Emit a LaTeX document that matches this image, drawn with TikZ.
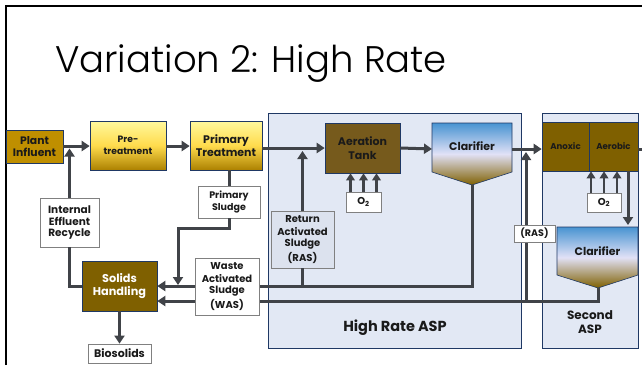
\documentclass[tikz,border=0pt]{standalone}
\usepackage{fontspec}
\usetikzlibrary{arrows.meta}
\setmainfont{Poppins}
\IfFontExistsTF{Poppins Light}
  {\newfontfamily\titlefont{Poppins Light}}
  {\newfontfamily\titlefont{Poppins}}
\definecolor{flowgray}{HTML}{404348}
\definecolor{navy}{HTML}{1F3864}
\definecolor{panelblue}{HTML}{E2E8F4}
\definecolor{rasfill}{HTML}{DCE2EE}
\definecolor{sludge}{HTML}{7F6000}
\definecolor{tankbrown}{HTML}{765A1C}
\definecolor{gold}{HTML}{BF8F00}
\definecolor{labelgray}{HTML}{808080}
\definecolor{inktext}{HTML}{1A1A1A}
\newcommand{\fsz}[1]{\fontsize{#1}{1.12\dimexpr#1pt\relax}\selectfont}
\tikzset{
  flow/.style={draw=flowgray, line width=3pt},
  flowarrow/.style={flow, -{Triangle[length=8pt,width=10pt]}},
  panel/.style={draw=navy, line width=0.7pt, fill=panelblue},
  goldbox/.style={draw=navy, line width=0.6pt, top color=yellow!35!white!95!orange, bottom color=gold!90!black,
    middle color=yellow!60!orange!70!white, align=center, text=inktext, font=\bfseries},
  tank/.style={draw=navy, line width=0.6pt, fill=tankbrown, align=center, text=inktext, font=\bfseries},
  tag/.style={draw=labelgray, line width=0.8pt, fill=white, align=center, text=inktext, font=\bfseries, inner sep=0pt},
  clarshade/.style={draw=navy, line width=0.6pt, top color=blue!45!cyan!60!gray!90!white, bottom color=sludge, middle color=gray!45!blue!15!white},
  captext/.style={font=\bfseries, text=inktext, align=center}
}
\begin{document}
\begin{tikzpicture}[x=1pt,y=-1pt]
\useasboundingbox (0,0) rectangle (642,365);
% frame lines
\draw[line width=2pt, black] (6,365) -- (6,6) -- (642,6);
% title
\node[anchor=base west, inner sep=0pt, font=\titlefont\fsz{37}, text=black] (title) at (55,72) {Variation 2: High Rate};

% process panels
\path[panel] (268,113) rectangle (521,348);
\path[panel] (542,113) rectangle (638,348);
\node[captext, font=\bfseries\fsz{14.5}] (hrasp) at (395,328) {High Rate ASP};
\node[captext, font=\bfseries\fsz{12}, inner sep=0pt] (sasp) at (590,322) {Second\\[1pt]ASP};

% front end boxes
\node[draw=navy, line width=0.6pt, fill=gold, minimum width=57pt, minimum height=33pt, inner sep=0pt,
  align=center, font=\bfseries\fsz{10.8}, text=inktext] (pi) at (34.5,146.5) {Plant\\Influent};
\node[goldbox, minimum width=76pt, minimum height=49pt, inner sep=0pt, font=\bfseries\fsz{9.2}] (pre) at (128,145.5) {Pre-\\[2pt]treatment};
\node[goldbox, minimum width=72pt, minimum height=49pt, inner sep=0pt, font=\bfseries\fsz{11}] (prim) at (226,145.5) {Primary\\Treatment};

% high rate stage
\node[tank, minimum width=75pt, minimum height=50pt, inner sep=0pt, font=\bfseries\fsz{11}] (at) at (362.5,148) {Aeration\\[1pt]Tank};
\path[clarshade] (432,123) -- (512,123) -- (512,172) -- (472,185) -- (432,172) -- cycle;
\node[captext, font=\bfseries\fsz{11}] (cl1) at (472,146) {Clarifier};
\coordinate (cl1tip) at (472,185);
\coordinate (cl1in) at (432,149);
\coordinate (cl1out) at (512,149);
\node[tag, minimum width=35pt, minimum height=20pt, font=\bfseries\fsz{10}] (o2a) at (363.5,202) {O\textsubscript{2}};

% second stage
\node[tank, minimum width=47pt, minimum height=49pt, inner sep=0pt, fill=sludge, font=\bfseries\fsz{8.6}] (anox) at (565.5,146.5) {Anoxic};
\node[tank, minimum width=49pt, minimum height=49pt, inner sep=0pt, fill=sludge, font=\bfseries\fsz{8.6}] (aer) at (613.5,146.5) {Aerobic};
\path[clarshade] (557,227) -- (638,227) -- (638,275) -- (598,288) -- (557,275) -- cycle;
\node[captext, font=\bfseries\fsz{11}] (cl2) at (597.5,251) {Clarifier};
\coordinate (cl2tip) at (598,288);
\node[tag, minimum width=34pt, minimum height=19pt, font=\bfseries\fsz{10}] (o2b) at (604,202.5) {O\textsubscript{2}};

% side boxes
\node[tag, minimum width=62pt, minimum height=32pt, font=\bfseries\fsz{9.5}] (psl) at (229,202) {Primary\\[2pt]Sludge};
\node[tag, fill=rasfill, minimum width=63pt, minimum height=57pt, font=\bfseries\fsz{10}] (ras) at (302.5,239.5) {Return\\[1pt]Activated\\Sludge\\[2pt](RAS)};
\node[tag, minimum width=59pt, minimum height=49pt, font=\bfseries\fsz{10.5}] (ier) at (69.5,222.5) {Internal\\Effluent\\Recycle};
\node[draw=navy, line width=0.6pt, fill=sludge, minimum width=75pt, minimum height=50pt, inner sep=0pt,
  align=center, text=white, font=\bfseries\fsz{11.3}] (sh) at (119.5,286) {Solids\\[1pt]Handling};
\node[tag, minimum width=63pt, minimum height=19pt, font=\bfseries\fsz{11}] (bio) at (119.5,353.5) {Biosolids};

% main flow
\draw[flowarrow] (pi.east |- 0,146) -- (pre.west |- 0,146);
\draw[flowarrow] (pre.east |- 0,146) -- (prim.west |- 0,146);
\draw[flowarrow] (prim.east |- at.west) -- (at.west);
\draw[flowarrow] (at.east) -- (cl1in);
\draw[flowarrow] (cl1out) -- (anox.west |- cl1out);
\draw[flow] (aer.east |- cl1out) -- ++(6,0);
\draw[flowarrow] (628,171) -- (628,225);
% aeration air supply
\foreach \dx in {-13,0,13} {
  \draw[flowgray, line width=2.6pt, -{Triangle[length=7pt,width=8.5pt]}] ([xshift=\dx pt]o2a.north) -- ([xshift=\dx pt]o2a.north |- at.south);
  \draw[flowgray, line width=2.6pt, -{Triangle[length=7pt,width=8.5pt]}] ([xshift=\dx pt]o2b.north) -- ([xshift=\dx pt]o2b.north |- aer.south);
}
% returns
\draw[flowarrow] (ras.north) -- (ras.north |- 0,151);
\draw[flowarrow] (ier.north) -- (ier.north |- 0,148.5);
\draw[flow] (ier.south) -- (ier.south |- sh.west) -- (sh.west);
% sludge lines
\draw[flow] (psl.north |- prim.south) -- (psl.north);
\draw[flowarrow] (psl.south) -- (229,228) -- (178,228) -- (178,285);
\draw[flow] (ras.south) -- (ras.south |- 0,286);
\draw[flowarrow] (cl1tip) -- (472,286) -- (sh.east |- 0,286);
\draw[flowarrow] (cl2tip) -- (598,301) -- (sh.east |- 0,301);
\draw[flowarrow] (526,301) -- (526,152);
\draw[flowarrow] (sh.south) -- (bio.north);

% labels laid over the lines
\node[tag, minimum width=64pt, minimum height=57pt, font=\bfseries\fsz{10}] (was) at (227,286.5) {Waste\\[1pt]Activated\\Sludge\\[2pt](WAS)};
\node[tag, minimum width=41pt, minimum height=17pt, font=\bfseries\fsz{9.5}] (rasb) at (534.5,233.5) {(RAS)};
\end{tikzpicture}
\end{document}
